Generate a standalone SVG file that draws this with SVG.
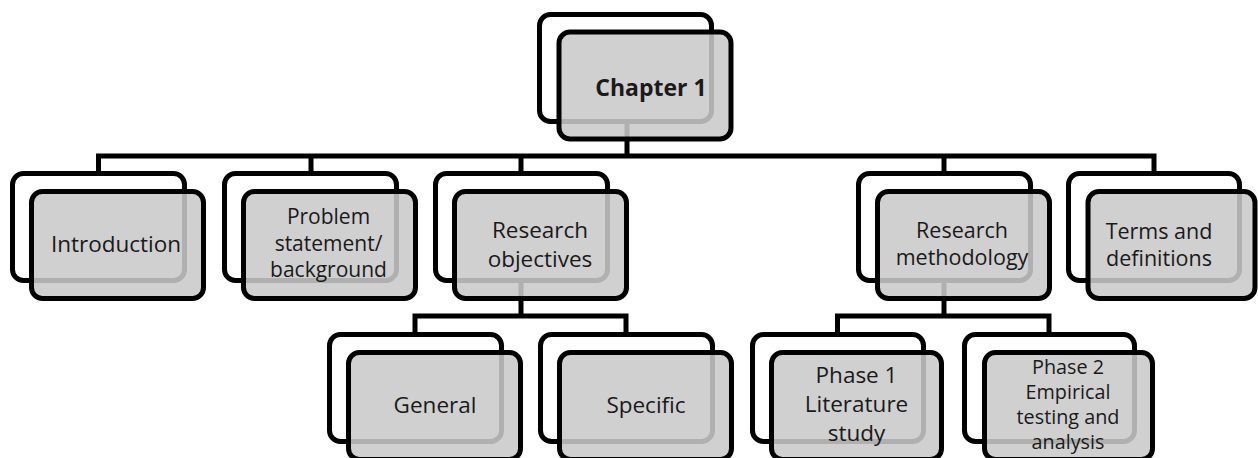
<svg xmlns="http://www.w3.org/2000/svg" width="1258" height="458" viewBox="0 0 1258 458">
<style>
.conn{fill:none;stroke:#000;stroke-width:5;stroke-linejoin:miter;stroke-linecap:butt}
.back{fill:#fff;stroke:#000;stroke-width:5}
.front{fill:rgb(201,201,201);fill-opacity:0.875;stroke:#000;stroke-width:5}
text{font-family:"Open Sans","Noto Sans","Liberation Sans",sans-serif;font-size:22.5px;fill:#1a1a1a;text-anchor:middle}
.b{font-weight:bold;font-size:23px}
.m{font-size:21.5px}
.p{font-size:21px}
.s{font-size:19.8px}
</style>
<rect width="1258" height="458" fill="#fff"/>
<g id="connectors">
<path class="conn" d="M627,124 V156 M98.5,171 V156 H1154 V171 M311,156 V171 M521,156 V171 M944,156 V171"/>
<path class="conn" d="M521,283 V316 M415,332 V316 H626 V332"/>
<path class="conn" d="M944,283 V316 M837.5,332 V316 H1049 V332"/>
</g>
<g id="chapter1">
<rect class="back" x="539.5" y="14.5" width="172" height="107" rx="11"/>
<rect class="front" x="559" y="32" width="172" height="107" rx="11"/>
<text class="b" x="651" y="96">Chapter 1</text>
</g>
<g id="introduction">
<rect class="back" x="12.5" y="173.5" width="172" height="107" rx="11"/>
<rect class="front" x="31.5" y="191.5" width="172" height="107" rx="11"/>
<text x="116" y="252">Introduction</text>
</g>
<g id="problem">
<rect class="back" x="224.5" y="173.5" width="172" height="107" rx="11"/>
<rect class="front" x="243.5" y="191.5" width="172" height="107" rx="11"/>
<text class="p" x="328.5" y="224">Problem</text>
<text class="p" x="328.5" y="250.5">statement/</text>
<text class="p" x="328.5" y="277">background</text>
</g>
<g id="objectives">
<rect class="back" x="435.5" y="173.5" width="172" height="107" rx="11"/>
<rect class="front" x="454.5" y="191.5" width="172" height="107" rx="11"/>
<text x="540" y="238">Research</text>
<text x="540" y="267">objectives</text>
</g>
<g id="methodology">
<rect class="back" x="858.5" y="173.5" width="172" height="107" rx="11"/>
<rect class="front" x="877.5" y="191.5" width="172" height="107" rx="11"/>
<text class="m" x="962" y="238">Research</text>
<text class="m" x="962" y="265">methodology</text>
</g>
<g id="terms">
<rect class="back" x="1068.5" y="173.5" width="171" height="107" rx="11"/>
<rect class="front" x="1088" y="191.5" width="167" height="107" rx="11"/>
<text class="m" x="1159" y="239">Terms and</text>
<text class="m" x="1159" y="266">definitions</text>
</g>
<g id="general">
<rect class="back" x="329.5" y="334.5" width="172" height="107" rx="11"/>
<rect class="front" x="348.5" y="352.5" width="172" height="107" rx="11"/>
<text x="435" y="413">General</text>
</g>
<g id="specific">
<rect class="back" x="540.5" y="334.5" width="172" height="107" rx="11"/>
<rect class="front" x="559.5" y="352.5" width="172" height="107" rx="11"/>
<text x="646" y="413">Specific</text>
</g>
<g id="phase1">
<rect class="back" x="752.5" y="334.5" width="171" height="107" rx="11"/>
<rect class="front" x="771.5" y="352.5" width="170" height="107" rx="11"/>
<text x="856.5" y="383">Phase 1</text>
<text x="856.5" y="412">Literature</text>
<text x="856.5" y="441">study</text>
</g>
<g id="phase2">
<rect class="back" x="964.5" y="334.5" width="170" height="107" rx="11"/>
<rect class="front" x="984.5" y="352.5" width="168" height="107" rx="11"/>
<text class="s" x="1068" y="373.5">Phase 2</text>
<text class="s" x="1068" y="398.7">Empirical</text>
<text class="s" x="1068" y="423.9">testing and</text>
<text class="s" x="1068" y="449.1">analysis</text>
</g>
</svg>
